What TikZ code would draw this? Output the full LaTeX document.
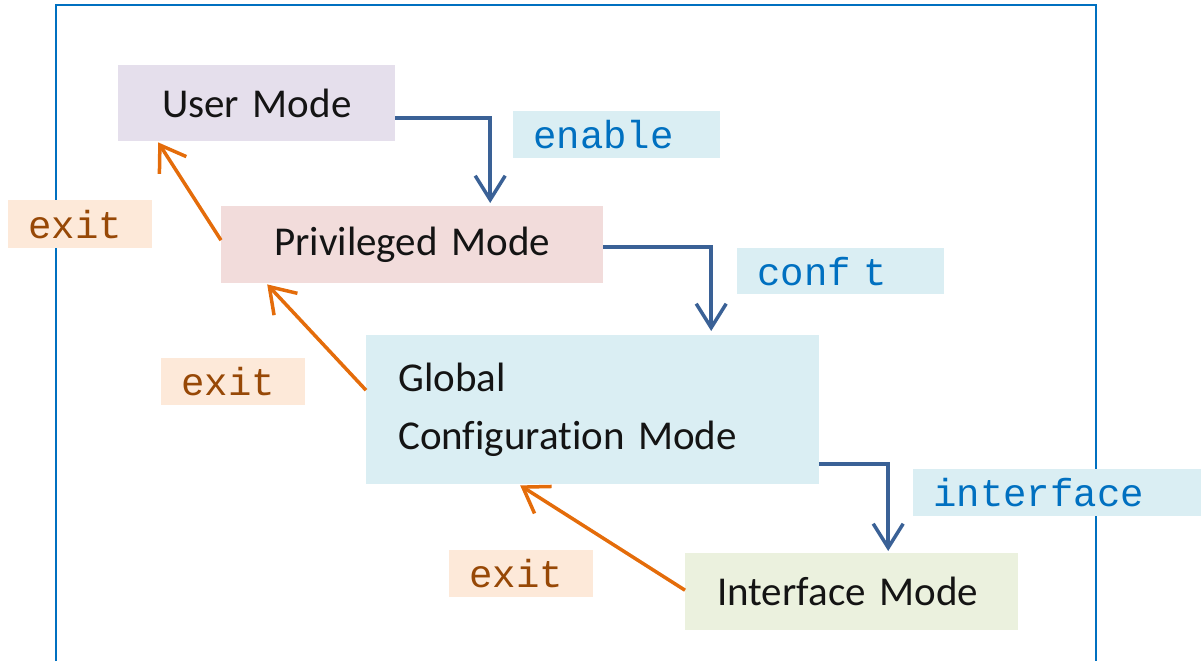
\documentclass[tikz,border=0pt]{standalone}
\usepackage{fontspec}
\setmainfont{Carlito}[Ligatures={NoCommon}]
\setmonofont{Liberation Mono}
\usetikzlibrary{arrows.meta}
\definecolor{frameblue}{HTML}{0070C0}
\definecolor{arrblue}{HTML}{3A6196}
\definecolor{arrorange}{HTML}{E46C0A}
\definecolor{umfill}{HTML}{E5DFEC}
\definecolor{pmfill}{HTML}{F2DCDB}
\definecolor{gmfill}{HTML}{DAEEF3}
\definecolor{imfill}{HTML}{EBF1DE}
\definecolor{cmdfill}{HTML}{DAEEF3}
\definecolor{cmdtext}{HTML}{0070C0}
\definecolor{exitfill}{HTML}{FDE9D9}
\definecolor{exittext}{HTML}{974806}
\tikzset{
  modebox/.style={anchor=north west, inner ysep=0pt, align=left, text=black!92,
    font=\fontsize{41}{58}\selectfont},
  cmdlabel/.style={anchor=north west, fill=cmdfill, text=cmdtext, inner xsep=20pt, inner ysep=0pt,
    align=left, font=\ttfamily\fontsize{39}{44}\selectfont},
  exitlabel/.style={anchor=north west, fill=exitfill, text=exittext, inner xsep=20pt, inner ysep=0pt,
    align=left, font=\ttfamily\fontsize{39}{44}\selectfont},
  bluearrow/.style={draw=arrblue, line width=3.5pt, -{Straight Barb[length=24pt,width=30pt,line width=3.5pt]}},
  orangearrow/.style={draw=arrorange, line width=3.5pt, -{Straight Barb[length=24pt,width=32pt,line width=3.5pt]}},
}
\begin{document}
\begin{tikzpicture}[x=1pt,y=-1pt]
\useasboundingbox (0,0) rectangle (1201,661);
% frame
\draw[frameblue, line width=2pt] (56,661) -- (56,5) -- (1096,5) -- (1096,661);
% mode boxes
\node[modebox, fill=umfill, minimum height=76pt, inner xsep=44pt, text width=189pt] (um) at (118,65) {\mbox{User Mode}};
\node[modebox, fill=pmfill, minimum height=77pt, inner xsep=53pt, text width=276pt] (pm) at (221,206) {\mbox{Privileged Mode}};
\node[modebox, fill=gmfill, minimum height=149pt, inner xsep=32pt, text width=389pt] (gm) at (366,335) {Global\\\mbox{Configuration Mode}};
\node[modebox, fill=imfill, minimum height=77pt, inner xsep=32pt, text width=269pt] (im) at (685,553) {\mbox{Interface Mode}};
% command labels
\node[cmdlabel, minimum height=47pt, text width=167pt] (enable) at (513,111) {enable};
\node[cmdlabel, minimum height=46pt, text width=167pt] (conft) at (737,248) {conf t};
\node[cmdlabel, minimum height=47pt, text width=248pt] (iface) at (913,469) {interface};
\node[exitlabel, minimum height=48pt, text width=104pt] (exita) at (8,200) {exit};
\node[exitlabel, minimum height=47pt, text width=104pt] (exitb) at (161,358) {exit};
\node[exitlabel, minimum height=47pt, text width=104pt] (exitc) at (449,550) {exit};
% blue arrows
\draw[bluearrow] ([yshift=-15pt]um.east) -| ([xshift=78pt,yshift=3pt]pm.north);
\draw[bluearrow] ([yshift=-2.5pt]pm.east) -| ([xshift=118.5pt,yshift=4pt]gm.north);
\draw[bluearrow] ([yshift=-54.5pt]gm.east) -| ([xshift=36.5pt,yshift=2pt]im.north);
% orange arrows
\draw[orangearrow] ([yshift=4.5pt]pm.west) -- ([xshift=-98.5pt,yshift=-1pt]um.south);
\draw[orangearrow] ([yshift=19.5pt]gm.west) -- ([xshift=-145pt,yshift=-1pt]pm.south);
\draw[orangearrow] ([yshift=1.5pt]im.west) -- ([xshift=-72.5pt,yshift=-1pt]gm.south);
\end{tikzpicture}
\end{document}
